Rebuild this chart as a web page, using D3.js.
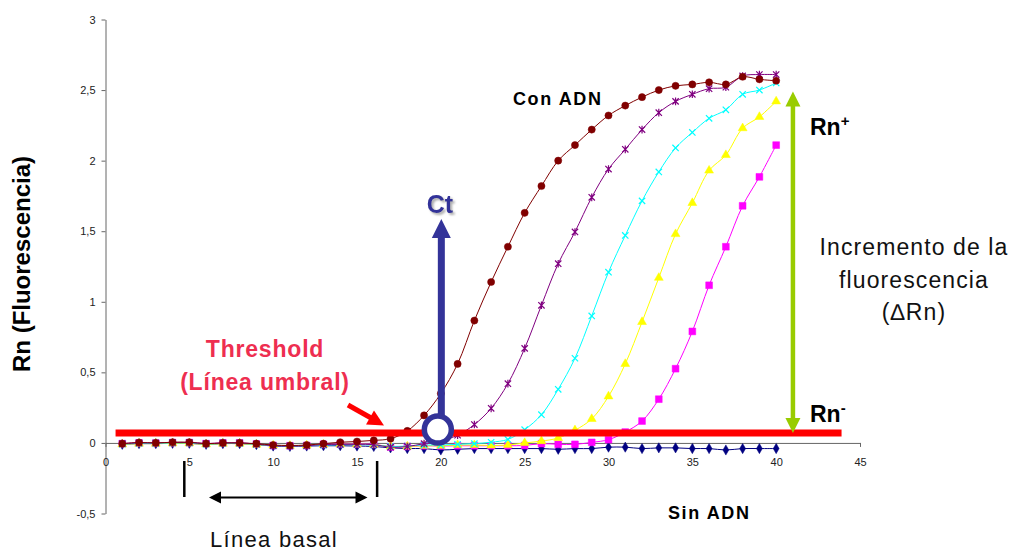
<!DOCTYPE html>
<html lang="es">
<head>
  <meta charset="UTF-8">
  <title>Curvas de amplificación PCR en tiempo real</title>
  <script src="https://d3js.org/d3.v7.min.js"></script>
  <style>
    body {
      margin: 0;
      background: #fff;
      font-family: Arial, "Liberation Sans", sans-serif;
    }
    svg { display: block; }
    .tick text {
      font-size: 11px;
      font-family: Arial, "Liberation Sans", sans-serif;
      fill: #222;
    }
    .axis path, .axis line { stroke: #666; }
    .serie { fill: none; stroke-width: 1px; }
  </style>
</head>
<body>
  <svg width="1019" height="554"></svg>
  <script>
    // ciclos y series (Rn)
    const ciclos = d3.range(1, 41);

    const serieRojo = [-0.005, 0.003, 0.0, 0.005, 0.005, -0.005, 0.0, 0.0, -0.005, -0.015,
      -0.018, -0.015, -0.005, 0.005, 0.01, 0.018, 0.03, 0.085, 0.195, 0.35,
      0.56, 0.867, 1.14, 1.39, 1.63, 1.82, 2.0, 2.11, 2.22, 2.32,
      2.39, 2.45, 2.5, 2.53, 2.54, 2.555, 2.54, 2.594, 2.576, 2.566];

    const serieMorado = [-0.005, 0.0, 0.0, 0.003, 0.003, -0.005, 0.0, 0.0, -0.008, -0.02,
      -0.022, -0.02, -0.012, -0.01, -0.01, -0.012, -0.03, -0.025, -0.005, 0.015,
      0.055, 0.13, 0.245, 0.42, 0.67, 0.975, 1.27, 1.495, 1.74, 1.94,
      2.08, 2.22, 2.34, 2.42, 2.47, 2.51, 2.52, 2.6, 2.61, 2.61];

    const serieCian = [-0.008, -0.003, -0.003, 0.0, 0.0, -0.008, -0.003, -0.003, -0.01, -0.02,
      -0.022, -0.02, -0.015, -0.012, -0.012, -0.015, -0.025, -0.022, -0.015, -0.015,
      -0.01, -0.005, 0.005, 0.025, 0.094, 0.2, 0.38, 0.6, 0.9, 1.21,
      1.47, 1.715, 1.92, 2.09, 2.2, 2.3, 2.36, 2.47, 2.5, 2.55];

    const serieAmarillo = [-0.01, -0.005, -0.005, -0.003, -0.003, -0.01, -0.005, -0.005, -0.012, -0.018,
      -0.02, -0.018, -0.012, -0.01, -0.01, -0.012, -0.025, -0.025, -0.02, -0.02,
      -0.015, -0.015, -0.018, -0.015, 0.0, 0.013, 0.035, 0.09, 0.17, 0.33,
      0.56, 0.857, 1.17, 1.48, 1.7, 1.93, 2.04, 2.23, 2.31, 2.42];

    const serieMagenta = [-0.005, 0.0, -0.002, 0.002, 0.002, -0.005, 0.0, 0.0, -0.008, -0.018,
      -0.02, -0.018, -0.01, -0.008, -0.008, -0.01, -0.028, -0.025, -0.02, -0.022,
      -0.02, -0.02, -0.02, -0.02, -0.018, -0.005, -0.01, -0.01, 0.004, 0.023,
      0.077, 0.155, 0.31, 0.526, 0.79, 1.117, 1.39, 1.68, 1.885, 2.11];

    const serieSinADN = [-0.01, -0.005, -0.005, -0.003, -0.003, -0.01, -0.005, -0.005, -0.012, -0.022,
      -0.025, -0.022, -0.02, -0.02, -0.022, -0.025, -0.035, -0.04, -0.04, -0.05,
      -0.045, -0.04, -0.04, -0.04, -0.04, -0.04, -0.045, -0.04, -0.04, -0.03,
      -0.03, -0.04, -0.035, -0.035, -0.04, -0.04, -0.05, -0.04, -0.04, -0.04];

    const yTicks = [-0.5, 0, 0.5, 1, 1.5, 2, 2.5, 3];
    const xTicks = [0, 5, 10, 15, 20, 25, 30, 35, 40, 45];

    // anotaciones (en unidades del grafico)
    const umbral = 0.07;
    const umbralDesde = 0.6, umbralHasta = 43.9;
    const ctCiclo = 20;
    const deltaX = 41, deltaArriba = 2.49;
    const basalDesde = 4.7, basalHasta = 16.2;

    // marcador estrella de Excel (X + linea vertical)
    const simboloEstrella = {
      draw(ctx, size) {
        const r = Math.sqrt(size) / 2;
        ctx.moveTo(-r, -r); ctx.lineTo(r, r);
        ctx.moveTo(-r, r); ctx.lineTo(r, -r);
        ctx.moveTo(0, -r * 1.2); ctx.lineTo(0, r * 1.2);
      }
    };
    const simboloX = {
      draw(ctx, size) {
        const r = Math.sqrt(size) / 2;
        ctx.moveTo(-r, -r); ctx.lineTo(r, r);
        ctx.moveTo(-r, r); ctx.lineTo(r, -r);
      }
    };

    const series = [
      {valores: serieSinADN, color: "#000080", simbolo: d3.symbolDiamond, size: 30, relleno: true},
      {valores: serieMagenta, color: "#FF00FF", simbolo: d3.symbolSquare, size: 46, relleno: true},
      {valores: serieAmarillo, color: "#FFFF00", simbolo: d3.symbolTriangle, size: 34, relleno: true},
      {valores: serieCian, color: "#00FFFF", simbolo: simboloX, size: 40, relleno: false},
      {valores: serieMorado, color: "#800080", simbolo: simboloEstrella, size: 40, relleno: false},
      {valores: serieRojo, color: "#800000", simbolo: d3.symbolCircle, size: 40, relleno: true}
    ];

    const svg = d3.select("svg");

    // sombra para el texto Ct
    svg.append("defs").append("filter")
      .attr("id", "sombra")
      .attr("x", "-20%").attr("y", "-20%").attr("width", "150%").attr("height", "150%")
      .append("feDropShadow")
      .attr("dx", 2).attr("dy", 2).attr("stdDeviation", 0.8)
      .attr("flood-color", "#999").attr("flood-opacity", 0.8);

    const x = d3.scaleLinear().domain([0, 45]).range([105.5, 860]);
    const y = d3.scaleLinear().domain([-0.5, 3]).range([513.5, 19.5]);

    // ejes
    svg.append("g")
      .attr("class", "axis")
      .attr("transform", `translate(${x(0)},0)`)
      .call(d3.axisLeft(y).tickValues(yTicks).tickSize(4).tickSizeOuter(0).tickPadding(6)
        .tickFormat(d => String(d).replace(".", ",")));

    svg.append("g")
      .attr("class", "axis")
      .attr("transform", `translate(0,${y(0)})`)
      .call(d3.axisBottom(x).tickValues(xTicks).tickSize(4).tickSizeOuter(0).tickPadding(11));

    // curvas
    const linea = d3.line()
      .x((d, i) => x(ciclos[i]))
      .y(d => y(d))
      .curve(d3.curveCatmullRom);

    series.forEach(s => {
      svg.append("path")
        .datum(s.valores)
        .attr("class", "serie")
        .attr("stroke", s.color)
        .attr("d", linea);

      svg.append("g").selectAll("path")
        .data(s.valores)
        .join("path")
        .attr("transform", (d, i) => `translate(${x(ciclos[i])},${y(d)})`)
        .attr("d", d3.symbol().type(s.simbolo).size(s.size))
        .attr("fill", s.relleno ? s.color : "none")
        .attr("stroke", s.color)
        .attr("stroke-width", s.relleno ? 0.5 : 1.2);
    });

    // linea umbral
    svg.append("line")
      .attr("x1", x(umbralDesde)).attr("x2", x(umbralHasta))
      .attr("y1", y(umbral)).attr("y2", y(umbral))
      .attr("stroke", "#FF0000")
      .attr("stroke-width", 7);

    // Ct
    const azul = "#333399";
    const ctx0 = x(ctCiclo);
    svg.append("rect")
      .attr("x", ctx0 - 3).attr("y", 236)
      .attr("width", 7).attr("height", y(umbral) - 13 - 236)
      .attr("fill", azul);
    svg.append("path")
      .attr("d", `M${ctx0 + 0.5},219 L${ctx0 + 10},238 L${ctx0 - 9},238 Z`)
      .attr("fill", azul);
    svg.append("circle")
      .attr("cx", ctx0 - 3).attr("cy", y(umbral) - 3.5)
      .attr("r", 13.5)
      .attr("fill", "#fff")
      .attr("stroke", azul)
      .attr("stroke-width", 5.5);

    svg.append("text")
      .attr("x", ctx0 - 1).attr("y", 213)
      .attr("text-anchor", "middle")
      .attr("font-size", 25).attr("font-weight", "bold")
      .attr("fill", azul)
      .attr("filter", "url(#sombra)")
      .text("Ct");

    // flecha verde (incremento)
    const verde = "#99CC00";
    const gx = x(deltaX);
    const yTop = y(deltaArriba), yBot = y(umbral);
    svg.append("line")
      .attr("x1", gx).attr("x2", gx)
      .attr("y1", yTop + 12).attr("y2", yBot - 12)
      .attr("stroke", verde).attr("stroke-width", 4.5);
    svg.append("path")
      .attr("d", `M${gx},${yTop} L${gx + 7.5},${yTop + 15} L${gx - 7.5},${yTop + 15} Z`)
      .attr("fill", verde);
    svg.append("path")
      .attr("d", `M${gx},${yBot} L${gx + 7.5},${yBot - 15} L${gx - 7.5},${yBot - 15} Z`)
      .attr("fill", verde);

    // textos Rn+ / Rn-
    const rn = (txt, sup, yy) => {
      const t = svg.append("text")
        .attr("x", 810).attr("y", yy)
        .attr("font-size", 23).attr("font-weight", "bold")
        .attr("fill", "#000");
      t.append("tspan").text(txt);
      t.append("tspan").attr("font-size", 15).attr("dy", -9).text(sup);
    };
    rn("Rn", "+", 135);
    rn("Rn", "-", 422);

    const incremento = svg.append("text")
      .attr("text-anchor", "middle")
      .attr("font-size", 23)
      .attr("letter-spacing", 1.1)
      .attr("fill", "#111");
    ["Incremento de la", "fluorescencia", "(\u2206Rn)"].forEach((t, i) => {
      incremento.append("tspan").attr("x", 914).attr("y", 255 + i * 32.5).text(t);
    });

    // Con ADN / Sin ADN
    svg.append("text")
      .attr("x", 513).attr("y", 105)
      .attr("font-size", 18).attr("font-weight", "bold")
      .attr("letter-spacing", 1.6)
      .text("Con ADN");
    svg.append("text")
      .attr("x", 668).attr("y", 519)
      .attr("font-size", 18).attr("font-weight", "bold")
      .attr("letter-spacing", 1.6)
      .text("Sin ADN");

    // Threshold
    const rosa = "#EE2E50";
    const thr = svg.append("text")
      .attr("text-anchor", "middle")
      .attr("font-size", 23).attr("font-weight", "bold")
      .attr("letter-spacing", 0.8)
      .attr("fill", rosa);
    thr.append("tspan").attr("x", 265).attr("y", 357).text("Threshold");
    thr.append("tspan").attr("x", 265).attr("y", 390).text("(Línea umbral)");

    svg.append("line")
      .attr("x1", 348).attr("y1", 405)
      .attr("x2", 372).attr("y2", 418.5)
      .attr("stroke", "#FF0000").attr("stroke-width", 5);
    svg.append("path")
      .attr("d", "M384,425.5 L366,424.5 L374,410.5 Z")
      .attr("fill", "#FF0000");

    // linea basal
    [basalDesde, basalHasta].forEach(c => {
      svg.append("line")
        .attr("x1", x(c)).attr("x2", x(c))
        .attr("y1", 461).attr("y2", 497)
        .attr("stroke", "#000").attr("stroke-width", 2.5);
    });
    const bx1 = 209, bx2 = 367.5, by = 497.5;
    svg.append("line")
      .attr("x1", bx1 + 10).attr("x2", bx2 - 10)
      .attr("y1", by).attr("y2", by)
      .attr("stroke", "#000").attr("stroke-width", 2);
    svg.append("path").attr("d", `M${bx1},${by} L${bx1 + 12},${by - 6} L${bx1 + 12},${by + 6} Z`);
    svg.append("path").attr("d", `M${bx2},${by} L${bx2 - 12},${by - 6} L${bx2 - 12},${by + 6} Z`);
    svg.append("text")
      .attr("x", 274).attr("y", 547)
      .attr("text-anchor", "middle")
      .attr("font-size", 22)
      .attr("letter-spacing", 1.3)
      .attr("fill", "#111")
      .text("Línea basal");

    // titulo eje y
    svg.append("text")
      .attr("transform", "translate(30,264) rotate(-90)")
      .attr("text-anchor", "middle")
      .attr("font-size", 24).attr("font-weight", "bold")
      .text("Rn (Fluorescencia)");
  </script>
</body>
</html>
